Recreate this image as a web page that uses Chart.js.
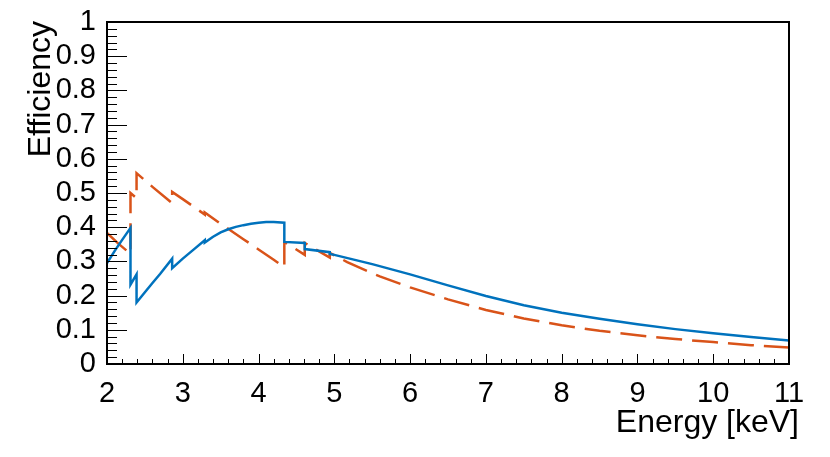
<!DOCTYPE html>
<html>
<head>
<meta charset="utf-8">
<script src="https://cdn.jsdelivr.net/npm/chart.js@4"></script>
<style>
  html, body { margin: 0; padding: 0; background: #fff; }
  #wrap { width: 830px; height: 457px; }
</style>
</head>
<body>
<div id="wrap"><canvas id="myChart" width="830" height="457"></canvas></div>
<script>
// valores (energia en keV, eficiencia)
const blueEnergy = [2.00, 2.10, 2.20, 2.31, 2.31, 2.39, 2.39, 2.50, 2.60, 2.70, 2.86, 2.86, 3.00, 3.15, 3.29, 3.29,
    3.40, 3.50, 3.60, 3.70, 3.80, 3.90, 4.00, 4.10, 4.20, 4.34, 4.34, 4.61, 4.61, 4.94, 4.94, 5.00, 5.50,
    6.00, 6.50, 7.00, 7.50, 8.00, 8.50, 9.00, 9.50, 10.00, 10.50, 11.00];
const blueEff = [0.295, 0.330, 0.363, 0.398, 0.232, 0.262, 0.180, 0.210, 0.237, 0.263, 0.308, 0.280, 0.308, 0.336, 0.362, 0.355,
    0.372, 0.385, 0.394, 0.401, 0.406, 0.410, 0.413, 0.415, 0.415, 0.413, 0.357, 0.354, 0.336, 0.327, 0.322, 0.319, 0.292,
    0.262, 0.230, 0.199, 0.172, 0.150, 0.132, 0.116, 0.102, 0.090, 0.079, 0.069];

const orangeEnergy = [2.00, 2.15, 2.31, 2.31, 2.39, 2.39, 2.60, 2.86, 2.86, 3.00, 3.15, 3.29, 3.29, 3.50, 3.80, 4.00,
    4.20, 4.34, 4.34, 4.61, 4.61, 4.94, 4.94, 5.17, 5.40, 5.60, 6.00, 6.50, 7.00, 7.50, 8.00, 8.50, 9.00,
    9.50, 10.00, 10.50, 11.00];
const orangeEff = [0.383, 0.352, 0.322, 0.500, 0.485, 0.558, 0.518, 0.470, 0.503, 0.482, 0.459, 0.437, 0.443, 0.410, 0.365, 0.335,
    0.305, 0.283, 0.357, 0.319, 0.354, 0.311, 0.325, 0.298, 0.275, 0.256, 0.224, 0.189, 0.158, 0.133, 0.113, 0.097, 0.084,
    0.073, 0.064, 0.055, 0.048];

// ejes
const xMin = 2, xMax = 11, xStep = 1, xMinorStep = 0.2;
const yMin = 0, yMax = 1, yStep = 0.1, yMinorStep = 0.02;
const xTitle = "Energy [keV]";
const yTitle = "Efficiency";

const fontFam = "'Liberation Sans', Arial, Helvetica, sans-serif";

function toPoints(xs, ys) {
    return xs.map((x, i) => ({ x: x, y: ys[i] }));
}

// marco y ticks hacia adentro, estilo ROOT
const marcoPlugin = {
    id: 'marco',
    afterDraw(chart) {
        const ctx = chart.ctx;
        const a = chart.chartArea;
        const sx = chart.scales.x;
        const sy = chart.scales.y;
        ctx.save();
        ctx.strokeStyle = '#000';
        ctx.lineWidth = 1;
        ctx.beginPath();
        for (let v = yMin; v <= yMax + 1e-9; v += yMinorStep) {
            const py = Math.round(sy.getPixelForValue(v)) + 0.5;
            const major = Math.abs(v / yStep - Math.round(v / yStep)) < 1e-6;
            ctx.moveTo(a.left, py);
            ctx.lineTo(a.left + (major ? 20 : 10), py);
        }
        for (let v = xMin; v <= xMax + 1e-9; v += xMinorStep) {
            const px = Math.round(sx.getPixelForValue(v)) + 0.5;
            const major = Math.abs(v / xStep - Math.round(v / xStep)) < 1e-6;
            ctx.moveTo(px, a.bottom);
            ctx.lineTo(px, a.bottom - (major ? 10 : 5));
        }
        ctx.stroke();
        ctx.lineWidth = 2;
        ctx.strokeRect(a.left, a.top, a.right - a.left, a.bottom - a.top);

        // titulos de ejes
        ctx.fillStyle = '#000';
        ctx.font = "32px " + fontFam;
        ctx.textAlign = 'right';
        ctx.textBaseline = 'alphabetic';
        ctx.fillText(xTitle, 799, 432);
        ctx.translate(50, 21);
        ctx.rotate(-Math.PI / 2);
        ctx.fillText(yTitle, 0, 0);
        ctx.restore();
    }
};

const ctx = document.getElementById('myChart');
const myChart = new Chart(ctx, {
    type: 'line',
    data: {
        datasets: [{
            data: toPoints(blueEnergy, blueEff),
            borderColor: '#0072BD',
            borderWidth: 2.5,
            pointRadius: 0,
            fill: false
        }, {
            data: toPoints(orangeEnergy, orangeEff),
            borderColor: '#D95319',
            borderWidth: 2.5,
            borderDash: [26, 10],
            pointRadius: 0,
            fill: false
        }]
    },
    options: {
        responsive: false,
        animation: false,
        layout: { padding: { top: 22, right: 41, bottom: 0, left: 0 } },
        plugins: { legend: { display: false }, tooltip: { enabled: false } },
        scales: {
            x: {
                type: 'linear',
                min: xMin,
                max: xMax,
                grid: { display: false },
                border: { display: false },
                afterFit: (s) => { s.height = 93; },
                ticks: {
                    stepSize: xStep,
                    padding: 5,
                    color: '#000',
                    maxRotation: 0,
                    autoSkip: false,
                    font: { family: fontFam, size: 29 },
                    callback: (v) => String(Math.round(v))
                }
            },
            y: {
                type: 'linear',
                min: yMin,
                max: yMax,
                grid: { display: false },
                border: { display: false },
                afterFit: (s) => { s.width = 107; },
                ticks: {
                    stepSize: yStep,
                    padding: 3,
                    color: '#000',
                    autoSkip: false,
                    font: { family: fontFam, size: 29 },
                    callback: (v) => String(Number(v.toFixed(1)))
                }
            }
        }
    },
    plugins: [marcoPlugin]
});
</script>
</body>
</html>
